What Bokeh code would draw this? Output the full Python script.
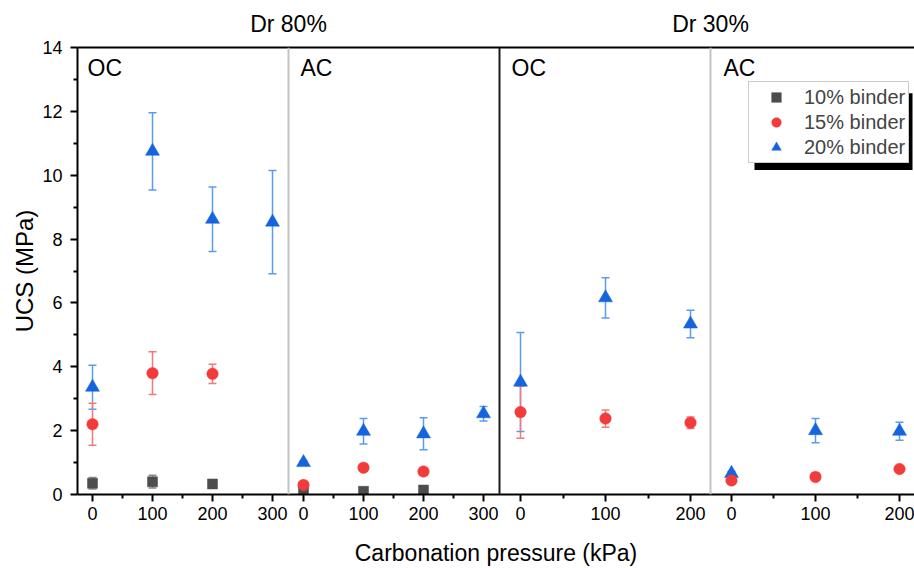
from bokeh.plotting import figure
from bokeh.models import (ColumnDataSource, Whisker, TeeHead, Span, Label, LinearAxis,
                          FixedTicker, Range1d, Legend, LegendItem)
from bokeh.embed import file_html
from bokeh.resources import INLINE

FONT = "Liberation Sans"

# ---------------- data ----------------
group_names = ["Dr 80%", "Dr 30%"]
panel_names = ["OC", "AC", "OC", "AC"]
panel_ticks = [[0, 100, 200, 300], [0, 100, 200, 300], [0, 100, 200], [0, 100, 200]]
panel_minor = [[50, 150, 250], [50, 150, 250], [50, 150], [50, 150]]

series_labels = ["10% binder", "15% binder", "20% binder"]
x_title = "Carbonation pressure (kPa)"
y_title = "UCS (MPa)"

# 10% binder
b10_panel = [0, 0, 0, 1, 1, 1]
b10_p = [0, 100, 200, 0, 100, 200]
b10_ucs = [0.35, 0.40, 0.33, 0.12, 0.10, 0.14]
b10_err = [0.18, 0.20, 0.04, 0.04, 0.03, 0.04]

# 15% binder
b15_panel = [0, 0, 0, 1, 1, 1, 2, 2, 2, 3, 3, 3]
b15_p = [0, 100, 200, 0, 100, 200, 0, 100, 200, 0, 100, 200]
b15_ucs = [2.20, 3.80, 3.78, 0.30, 0.84, 0.72, 2.58, 2.38, 2.25, 0.44, 0.55, 0.80]
b15_err = [0.66, 0.67, 0.30, 0.08, 0.10, 0.12, 0.82, 0.27, 0.18, 0.05, 0.12, 0.05]

# 20% binder
b20_panel = [0, 0, 0, 0, 1, 1, 1, 1, 2, 2, 2, 3, 3, 3]
b20_p = [0, 100, 200, 300, 0, 100, 200, 300, 0, 100, 200, 0, 100, 200]
b20_ucs = [3.36, 10.75, 8.62, 8.53, 1.00, 1.98, 1.90, 2.53, 3.52, 6.16, 5.34, 0.66, 2.00, 1.98]
b20_err = [0.69, 1.21, 1.01, 1.62, 0.06, 0.40, 0.50, 0.23, 1.55, 0.63, 0.43, 0.06, 0.38, 0.28]

# ---------------- layout (x axis units = frame pixels) ----------------
panel_start = [15, 226, 443, 654]
panel_scale = [0.6, 0.6, 0.85, 0.84]
dividers = [211, 422, 633]
divider_colors = ["#c4c4c4", "#1a1a1a", "#c4c4c4"]
panel_label_x = [10, 223, 434, 646]


def xpos(panel, p):
    return round(panel_start[panel] + panel_scale[panel] * p, 3)


def make_source(panels, ps, ucs, err):
    x = [xpos(k, q) for k, q in zip(panels, ps)]
    return ColumnDataSource(dict(
        x=x, y=ucs,
        upper=[u + e for u, e in zip(ucs, err)],
        lower=[u - e for u, e in zip(ucs, err)],
    ))


XMAX, YMAX = 837, 14
p = figure(width=914, height=568, x_range=Range1d(0, XMAX), y_range=Range1d(0, YMAX),
           output_backend="svg", toolbar_location=None,
           min_border_left=77, min_border_right=0, min_border_top=47, min_border_bottom=72,
           outline_line_color=None, background_fill_color="white", border_fill_color="white")
p.xgrid.visible = False
p.ygrid.visible = False

# dividers between panels
for loc, col in zip(dividers, divider_colors):
    p.add_layout(Span(location=loc, dimension="height", line_color=col, line_width=2))

# series
styles = {
    "10% binder": dict(marker="square", color="#4d4d4d", err="#8a8a8a", size=10),
    "15% binder": dict(marker="circle", color="#f23b3b", err="#f47a7a", size=11.5),
    "20% binder": dict(marker="triangle", color="#1664dd", err="#5b9bef", size=14),
}
sources = {
    "10% binder": make_source(b10_panel, b10_p, b10_ucs, b10_err),
    "15% binder": make_source(b15_panel, b15_p, b15_ucs, b15_err),
    "20% binder": make_source(b20_panel, b20_p, b20_ucs, b20_err),
}
renderers = {}
for name in ["20% binder", "10% binder", "15% binder"]:
    st = styles[name]
    src = sources[name]
    w = Whisker(source=src, base="x", upper="upper", lower="lower",
                line_color=st["err"], line_width=1.5, level="underlay",
                upper_head=TeeHead(size=8, line_color=st["err"], line_width=1.5),
                lower_head=TeeHead(size=8, line_color=st["err"], line_width=1.5))
    p.add_layout(w)
    renderers[name] = p.scatter("x", "y", source=src, marker=st["marker"], size=st["size"],
                                fill_color=st["color"], line_color=st["color"], line_width=0.5)

# legend shadow (pixel-sized box converted to axis units)
px_y = YMAX / 449.0
p.quad(left=677, right=835, top=YMAX - 46 * px_y, bottom=YMAX - 123 * px_y,
       fill_color="black", line_color=None)

legend = Legend(items=[LegendItem(label=n, renderers=[renderers[n]]) for n in series_labels],
                location=(671, 331), orientation="vertical",
                border_line_color="#9a9a9a", border_line_width=1,
                background_fill_color="white", background_fill_alpha=1.0,
                label_text_font=FONT, label_text_font_size="20px",
                glyph_width=48, glyph_height=24, label_height=24, spacing=1,
                padding=3, label_standoff=4, margin=0)
p.add_layout(legend)

# panel labels OC / AC
for name, lx in zip(panel_names, panel_label_x):
    p.add_layout(Label(x=lx, y=YMAX - 21 * px_y, text=name, text_font=FONT,
                       text_font_size="23px", text_baseline="middle", text_color="black"))

# bottom x axis
majors, minors, overrides = [], [], {}
for k in range(4):
    for t in panel_ticks[k]:
        xv = xpos(k, t)
        majors.append(xv)
        overrides[xv] = str(t)
    for t in panel_minor[k]:
        minors.append(xpos(k, t))

xa = p.xaxis[0]
xa.ticker = FixedTicker(ticks=majors, minor_ticks=minors)
xa.major_label_overrides = overrides
xa.axis_label = x_title
ya = p.yaxis[0]
ya.ticker = FixedTicker(ticks=list(range(0, 15, 2)), minor_ticks=list(range(1, 14, 2)))
ya.axis_label = y_title
for ax in (xa, ya):
    ax.axis_line_color = "black"
    ax.axis_line_width = 2
    ax.major_tick_line_color = "black"
    ax.major_tick_line_width = 2
    ax.minor_tick_line_color = "black"
    ax.minor_tick_line_width = 2
    ax.major_tick_in = 0
    ax.major_tick_out = 7
    ax.minor_tick_in = 0
    ax.minor_tick_out = 4
    ax.major_label_text_font = FONT
    ax.major_label_text_font_size = "18px"
    ax.major_label_text_color = "black"
    ax.axis_label_text_font = FONT
    ax.axis_label_text_font_style = "normal"
    ax.axis_label_text_color = "black"
xa.axis_label_text_font_size = "23px"
ya.axis_label_text_font_size = "24px"
xa.major_label_standoff = 5
xa.axis_label_standoff = 17
ya.major_label_standoff = 8
ya.axis_label_standoff = 1

# top axis: frame line with group titles
group_pos = [dividers[0], dividers[2]]
top = LinearAxis(ticker=FixedTicker(ticks=group_pos, minor_ticks=[]),
                 major_label_overrides={float(g): n for g, n in zip(group_pos, group_names)},
                 axis_line_color="black", axis_line_width=2,
                 major_tick_line_color=None, minor_tick_line_color=None,
                 major_label_text_font=FONT, major_label_text_font_size="23px",
                 major_label_text_color="black", major_label_standoff=5)
p.add_layout(top, "above")

open("out.html", "w").write(file_html(p, INLINE))
